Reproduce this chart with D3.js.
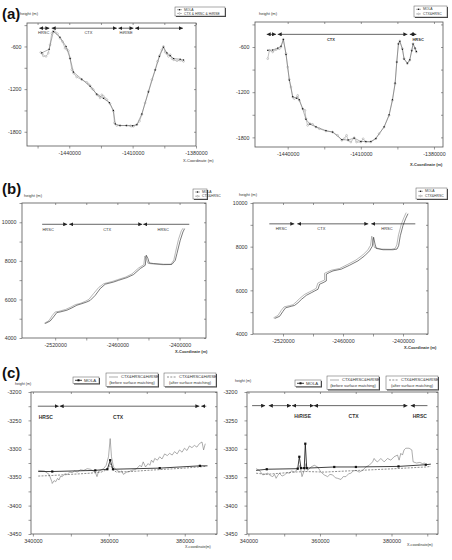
<!DOCTYPE html>
<html>
<head>
<meta charset="utf-8">
<script src="https://cdn.jsdelivr.net/npm/d3@7"></script>
<style>
body { margin: 0; background: #fff; }
text { font-family: "Liberation Sans", Arial, sans-serif; }
</style>
</head>
<body>
<div id="chart"></div>
<script>
// ---- data: elevation profiles [x-coordinate (m), height (m)] ----
var aLeftMola = [[-1453000,-690],[-1449500,-640],[-1447500,-390],[-1444400,-470],[-1441500,-600],[-1439600,-770],[-1438000,-960],[-1434100,-1060],[-1430100,-1160],[-1427000,-1270],[-1423800,-1330],[-1421000,-1390],[-1419100,-1500],[-1418200,-1690],[-1416000,-1712],[-1413000,-1712],[-1410000,-1715],[-1408000,-1700],[-1405650,-1550],[-1402500,-1240],[-1399300,-930],[-1397300,-740],[-1395400,-610],[-1393800,-690],[-1392200,-730],[-1390600,-770],[-1387500,-780],[-1385900,-790]];
var aLeftCtx = [[-1453500,-684],[-1452800,-700],[-1452260,-731],[-1451000,-740],[-1449900,-693],[-1449100,-577],[-1448300,-413],[-1447500,-380],[-1446700,-395],[-1445600,-420],[-1444400,-483],[-1443250,-530],[-1442000,-623],[-1441200,-640],[-1440400,-660],[-1439600,-764],[-1438800,-927],[-1438000,-974],[-1436500,-1030],[-1434100,-1067],[-1431700,-1105],[-1430900,-1130],[-1430100,-1151],[-1429300,-1190],[-1428600,-1207],[-1427000,-1278],[-1426200,-1290],[-1425400,-1324],[-1424600,-1280],[-1423800,-1301],[-1423000,-1330],[-1422200,-1348],[-1420700,-1404],[-1419100,-1511],[-1418600,-1675],[-1417500,-1712],[-1415900,-1712],[-1412800,-1712],[-1411000,-1716],[-1410400,-1722],[-1409600,-1722],[-1408000,-1698],[-1406750,-1651],[-1405650,-1558],[-1404100,-1394],[-1402500,-1231],[-1400900,-1067],[-1399300,-927],[-1398200,-810],[-1397300,-731],[-1396200,-647],[-1395400,-600],[-1394600,-680],[-1393800,-703],[-1393000,-740],[-1392200,-717],[-1391400,-770],[-1390600,-787],[-1389000,-801],[-1387500,-795],[-1385900,-810]];

var aRightMola = [[-1448184,-644],[-1446140,-640],[-1444090,-615],[-1442730,-590],[-1441770,-500],[-1440680,-700],[-1439320,-1040],[-1437950,-1260],[-1436320,-1280],[-1435230,-1300],[-1433860,-1420],[-1432500,-1560],[-1430860,-1625],[-1428410,-1660],[-1424310,-1710],[-1421590,-1730],[-1417770,-1830],[-1415180,-1835],[-1412720,-1810],[-1410000,-1855],[-1407950,-1855],[-1405900,-1855],[-1403850,-1815],[-1400440,-1660],[-1398400,-1500],[-1397030,-1300],[-1395940,-1080],[-1395260,-800],[-1394580,-560],[-1394030,-525],[-1392940,-630],[-1392260,-760],[-1390900,-815],[-1389940,-770],[-1389120,-650],[-1388580,-560],[-1387760,-615],[-1387210,-660]];
var aRightCtx = [[-1448184,-755],[-1447500,-644],[-1446140,-666],[-1444770,-635],[-1443410,-622],[-1442730,-600],[-1441770,-498],[-1440680,-689],[-1440000,-866],[-1439320,-1030],[-1438640,-1131],[-1437950,-1264],[-1437270,-1286],[-1436320,-1273],[-1435910,-1242],[-1435230,-1309],[-1433860,-1419],[-1432910,-1441],[-1432500,-1552],[-1431820,-1641],[-1430860,-1618],[-1429770,-1627],[-1428410,-1663],[-1427040,-1685],[-1424310,-1716],[-1421590,-1729],[-1419540,-1773],[-1417770,-1840],[-1416810,-1818],[-1415860,-1773],[-1415180,-1840],[-1414080,-1862],[-1412720,-1804],[-1411770,-1862],[-1410000,-1862],[-1409040,-1818],[-1407950,-1862],[-1405900,-1862],[-1403850,-1818],[-1402490,-1751],[-1400440,-1663],[-1398400,-1508],[-1397030,-1308],[-1395940,-1087],[-1395260,-799],[-1394580,-556],[-1394030,-520],[-1392940,-622],[-1392260,-755],[-1390900,-821],[-1389940,-777],[-1389120,-644],[-1388580,-556],[-1387760,-622],[-1387210,-666]];

var bLeftMola = [[-2529650,4750],[-2524830,4880],[-2521640,5090],[-2518360,5320],[-2515170,5350],[-2508700,5440],[-2503880,5560],[-2499050,5700],[-2494220,5780],[-2489400,5870],[-2486210,5950],[-2481380,6210],[-2476560,6560],[-2471730,6790],[-2463720,6900],[-2458890,6990],[-2450780,7130],[-2444410,7290],[-2437940,7600],[-2433110,7770],[-2432150,8290],[-2430510,8120],[-2429250,7890],[-2425100,7860],[-2415450,7820],[-2407340,7820],[-2404150,8030],[-2402510,8380],[-2400970,8720],[-2399330,9070],[-2396720,9500],[-2395170,9670]];
var bLeftCtx = [[-2530500,4760],[-2526000,4900],[-2523000,5150],[-2520000,5350],[-2516500,5380],[-2510000,5480],[-2505000,5600],[-2500500,5730],[-2495500,5800],[-2491000,5900],[-2487500,6000],[-2483000,6300],[-2478000,6620],[-2473000,6820],[-2465000,6930],[-2460000,7020],[-2452000,7160],[-2446000,7320],[-2439500,7630],[-2434500,7800],[-2433500,8250],[-2431800,8080],[-2430500,7870],[-2426000,7840],[-2416000,7800],[-2408500,7810],[-2405500,8050],[-2404000,8420],[-2402500,8780],[-2401000,9120],[-2398300,9560],[-2396500,9700]];

var bRightMola = [[-2528400,4710],[-2523400,4810],[-2520000,5040],[-2517400,5200],[-2511700,5270],[-2508400,5310],[-2505000,5430],[-2501700,5580],[-2496700,5770],[-2491700,5890],[-2488400,5970],[-2485000,6050],[-2483400,6280],[-2480000,6350],[-2476700,6430],[-2476700,6740],[-2473400,6820],[-2470000,6890],[-2461700,6970],[-2453400,7150],[-2445000,7350],[-2438400,7580],[-2433400,7810],[-2430700,8020],[-2429400,8430],[-2428000,8120],[-2426700,7920],[-2420000,7860],[-2410000,7860],[-2406000,7890],[-2404400,8040],[-2402700,8500],[-2400000,8970],[-2397400,9280],[-2395000,9510]];
var bRightCtx = [[-2529500,4740],[-2525000,4850],[-2521800,5080],[-2519000,5240],[-2513500,5300],[-2510000,5340],[-2506800,5470],[-2503500,5620],[-2498500,5810],[-2493500,5930],[-2490000,6010],[-2486800,6090],[-2485200,6330],[-2482000,6400],[-2478500,6470],[-2478500,6780],[-2475200,6850],[-2471800,6920],[-2463500,7000],[-2455200,7190],[-2447000,7390],[-2440200,7620],[-2435200,7850],[-2432500,8060],[-2431200,8480],[-2429800,8160],[-2428500,7960],[-2421800,7890],[-2411800,7880],[-2407800,7920],[-2406200,8080],[-2404500,8540],[-2401800,9010],[-2399200,9320],[-2396800,9560]];

var cLeftMola = [[341400,-3340],[345100,-3340],[356440,-3338],[359600,-3336],[360360,-3320],[361100,-3336],[373410,-3334],[384000,-3330],[386000,-3330]];
var cLeftBefore = [[341400,-3338],[343000,-3339],[344260,-3345],[345000,-3358],[345100,-3361],[345600,-3356],[346000,-3358],[346500,-3352],[346870,-3355],[347300,-3348],[347740,-3349],[348400,-3344],[349050,-3345],[349700,-3341],[350360,-3342],[351000,-3339],[351670,-3341],[352500,-3337],[353400,-3338],[354300,-3335],[355140,-3336],[355800,-3339],[356440,-3341],[356880,-3349],[357300,-3340],[357750,-3338],[358610,-3335],[359310,-3329],[359920,-3314],[360360,-3282],[360700,-3314],[361220,-3332],[362100,-3338],[362970,-3341],[363400,-3339],[363840,-3345],[364710,-3341],[365400,-3340],[366020,-3338],[366700,-3337],[367330,-3335],[368190,-3329],[368600,-3332],[369060,-3323],[369670,-3332],[370360,-3326],[370800,-3329],[371240,-3320],[371700,-3324],[372100,-3317],[372800,-3320],[373410,-3314],[374000,-3318],[374710,-3309],[375400,-3312],[376020,-3308],[376700,-3311],[377320,-3305],[378000,-3309],[378630,-3302],[379300,-3306],[379930,-3299],[380600,-3303],[381240,-3295],[381900,-3298],[382540,-3294],[383200,-3297],[383850,-3291],[384550,-3288],[384970,-3302],[385410,-3291]];
var cLeftAfter = [[341400,-3348],[345000,-3347],[350000,-3345],[355000,-3343],[358000,-3341],[359800,-3336],[360360,-3326],[360900,-3336],[362000,-3341],[366000,-3340],[370000,-3338],[375000,-3336],[380000,-3334],[385400,-3331]];

var cRightMola = [[342150,-3338],[345130,-3336],[353780,-3335],[354230,-3314],[354700,-3334],[355600,-3334],[355900,-3291],[356300,-3334],[363990,-3332],[370050,-3332],[381960,-3331],[389580,-3328],[391000,-3327]];
var cRightBefore = [[342150,-3335],[343070,-3338],[344010,-3346],[345410,-3343],[346100,-3347],[346800,-3349],[347300,-3345],[347730,-3352],[348200,-3347],[348660,-3343],[349400,-3348],[350060,-3346],[350800,-3342],[351440,-3343],[352100,-3339],[352830,-3341],[353780,-3336],[354420,-3329],[354980,-3349],[355620,-3338],[356100,-3326],[356570,-3338],[357490,-3332],[358410,-3329],[359360,-3332],[360280,-3341],[361200,-3346],[362150,-3349],[362800,-3345],[363550,-3346],[364300,-3351],[364930,-3352],[365860,-3354],[366500,-3349],[367260,-3349],[368000,-3344],[368650,-3343],[369300,-3339],[370050,-3338],[370970,-3341],[371920,-3338],[372840,-3332],[373770,-3329],[374710,-3323],[375150,-3317],[375600,-3321],[376100,-3323],[377020,-3317],[377940,-3323],[378890,-3317],[379810,-3320],[380730,-3314],[381680,-3311],[382130,-3320],[382600,-3308],[383070,-3311],[383510,-3302],[384000,-3299],[384920,-3299],[385680,-3302],[386050,-3323],[387000,-3325],[387920,-3324],[388660,-3326],[389300,-3325]];
var cRightAfter = [[342150,-3343],[345000,-3345],[352830,-3341],[356100,-3340],[361200,-3341],[370970,-3338],[381000,-3335],[389580,-3332],[391000,-3331]];

// ---- tick values and labels ----
var aLeftXTicks = [-1455000,-1440000,-1425000,-1410000,-1395000,-1380000];
var aRightXTicks = [-1440000,-1425000,-1410000,-1395000,-1380000];
var aXLabels = [-1440000,-1410000,-1380000];
var aYTicks = [-1800,-1500,-1200,-900,-600,-300];
var aYLabels = [-1800,-1200,-600];
var bXTicks = [-2520000,-2490000,-2460000,-2430000,-2400000];
var bXLabels = [-2520000,-2460000,-2400000];
var bLeftYTicks = [4000,5000,6000,7000,8000,9000,10000,11000];
var bRightYTicks = [4000,5000,6000,7000,8000,9000,10000];
var bYLabels = [4000,6000,8000,10000];
var cLeftXTicks = [340000,350000,360000,370000,380000];
var cRightXTicks = [340000,350000,360000,370000,380000,390000];
var cXLabels = [340000,360000,380000];
var cYTicks = [-3450,-3425,-3400,-3375,-3350,-3325,-3300,-3275,-3250,-3225,-3200];
var cYLabels = [-3450,-3400,-3350,-3300,-3250,-3200];

// ---- image-strip annotations: spans [from, to] and names [label, x] ----
var aLeftSpans = [[-1454150,-1449410],[-1448300,-1417500],[-1416700,-1409600],[-1408800,-1386200]];
var aLeftNames = [["HRSC",-1452100],["CTX",-1430900],["HiRISE",-1413100]];
var aRightSpans = [[-1448600,-1444770],[-1444090,-1390900],[-1389940,-1387210]];
var aRightNames = [["CTX",-1422270],["HRSC",-1386500]];
var bLeftSpans = [[-2532550,-2508420],[-2506480,-2436010],[-2435040,-2390640]];
var bLeftNames = [["HRSC",-2526760],["CTX",-2469800],["HRSC",-2415740]];
var bRightSpans = [[-2533700,-2508700],[-2505700,-2434700],[-2431700,-2387700]];
var bRightNames = [["HRSC",-2521700],["CTX",-2481700],["HRSC",-2416000]];
var cLeftSpans = [[341300,346790],[347050,383850],[384370,385680]];
var cLeftNames = [["HRSC",343400],["CTX",362450]];
var cRightSpans = [[341030,344660],[345690,351910],[352190,358250],[358330,384470],[385390,390050]];
var cRightNames = [["HiRISE",355170],["CTX",369400],["HRSC",387900]];

var W = 452, H = 560;
var svg = d3.select("#chart").append("svg")
    .attr("width", W)
    .attr("height", H);

var defs = svg.append("defs");
defs.append("marker")
    .attr("id", "head")
    .attr("viewBox", "0 0 6 6")
    .attr("refX", 6).attr("refY", 3)
    .attr("markerWidth", 4).attr("markerHeight", 4)
    .attr("markerUnits", "userSpaceOnUse")
    .attr("orient", "auto-start-reverse")
    .append("path")
    .attr("d", "M0,0 L6,3 L0,6 z")
    .attr("fill", "#222");

var STYLES = {
    mola: {stroke: "#555", width: 0.45, dash: null, mark: "square"},
    ctx: {stroke: "#999", width: 0.6, dash: null, mark: "circle"},
    molaB: {stroke: "#222", width: 0.6, dash: null, mark: null},
    ctxB: {stroke: "#888", width: 0.6, dash: null, mark: null},
    molaC: {stroke: "#111", width: 0.8, dash: null, mark: "squareBig"},
    before: {stroke: "#777", width: 0.6, dash: null, mark: null},
    after: {stroke: "#444", width: 0.6, dash: "2,1.3", mark: null}
};

ProfilePanel = function(cfg) {
    var vis = this;
    vis.cfg = cfg;
    vis.initVis();
}

ProfilePanel.prototype.initVis = function() {
    var vis = this;
    var c = vis.cfg, f = c.frame;

    vis.x = d3.scaleLinear().domain(c.xDomain).range([f.x, f.x + f.w]);
    vis.y = d3.scaleLinear().domain(c.yDomain).range([f.y + f.h, f.y]);
    vis.g = svg.append("g");

    var fmt = function(labels) {
        return function(d) { return labels.indexOf(d) >= 0 ? String(d) : ""; };
    };

    vis.g.append("g")
        .attr("class", "x-axis")
        .attr("transform", "translate(0," + (f.y + f.h) + ")")
        .call(d3.axisBottom(vis.x).tickValues(c.xTicks).tickSize(2.5).tickPadding(2.5).tickFormat(fmt(c.xLabels)));
    vis.g.append("g")
        .attr("class", "y-axis")
        .attr("transform", "translate(" + f.x + ",0)")
        .call(d3.axisLeft(vis.y).tickValues(c.yTicks).tickSize(2.5).tickPadding(c.yPad).tickFormat(fmt(c.yLabels)));
    vis.g.append("g")
        .attr("transform", "translate(0," + f.y + ")")
        .call(d3.axisTop(vis.x).tickValues(c.xTicks).tickSize(-2).tickFormat(""));
    vis.g.append("g")
        .attr("transform", "translate(" + (f.x + f.w) + ",0)")
        .call(d3.axisRight(vis.y).tickValues(c.yTicks).tickSize(-2).tickFormat(""));

    vis.g.selectAll(".domain").remove();
    vis.g.selectAll(".tick line").attr("stroke", "#555").attr("stroke-width", 0.6);
    vis.g.selectAll(".tick text")
        .attr("font-size", c.tickFont)
        .attr("fill", "#333")
        .attr("font-family", "Liberation Sans, Arial, sans-serif");

    vis.g.append("rect")
        .attr("x", f.x).attr("y", f.y)
        .attr("width", f.w).attr("height", f.h)
        .attr("fill", "none")
        .attr("stroke", "#555")
        .attr("stroke-width", 0.8);

    vis.updateVis();
}

ProfilePanel.prototype.updateVis = function() {
    var vis = this;
    var c = vis.cfg;

    var line = d3.line()
        .x(function(d) { return vis.x(d[0]); })
        .y(function(d) { return vis.y(d[1]); });

    c.series.forEach(function(s) {
        var st = STYLES[s.style];
        vis.g.append("path")
            .attr("d", line(s.data))
            .attr("fill", "none")
            .attr("stroke", st.stroke)
            .attr("stroke-width", st.width)
            .attr("stroke-dasharray", st.dash)
            .attr("stroke-linejoin", "round");

        if (st.mark == "circle") {
            vis.g.selectAll(null).data(s.data).enter().append("circle")
                .attr("cx", function(d) { return vis.x(d[0]); })
                .attr("cy", function(d) { return vis.y(d[1]); })
                .attr("r", 0.9)
                .attr("fill", "#fff")
                .attr("stroke", "#888")
                .attr("stroke-width", 0.4);
        } else if (st.mark == "square" || st.mark == "squareBig") {
            var sz = st.mark == "square" ? 1.2 : 2.2;
            var pts = st.mark == "square" ? s.data : s.data.slice(1, -1);
            vis.g.selectAll(null).data(pts).enter().append("rect")
                .attr("x", function(d) { return vis.x(d[0]) - sz / 2; })
                .attr("y", function(d) { return vis.y(d[1]) - sz / 2; })
                .attr("width", sz).attr("height", sz)
                .attr("fill", "#111");
        }
    });

    // sensor coverage arrows
    c.spans.forEach(function(sp, i) {
        var inner = c.heads == "inner";
        vis.g.append("line")
            .attr("x1", vis.x(sp[0])).attr("x2", vis.x(sp[1]))
            .attr("y1", vis.y(c.spanY)).attr("y2", vis.y(c.spanY))
            .attr("stroke", "#222")
            .attr("stroke-width", 0.7)
            .attr("marker-start", (!inner || i > 0) ? "url(#head)" : null)
            .attr("marker-end", (!inner || i < c.spans.length - 1) ? "url(#head)" : null);
    });
    vis.g.selectAll(null).data(c.names).enter().append("text")
        .attr("x", function(d) { return vis.x(d[1]); })
        .attr("y", vis.y(c.nameY))
        .attr("text-anchor", "middle")
        .attr("font-size", c.nameFont)
        .attr("font-weight", c.nameBold ? "bold" : "normal")
        .attr("fill", "#333")
        .text(function(d) { return d[0]; });

    // axis titles
    vis.g.append("text")
        .attr("x", c.yTitle[0]).attr("y", c.yTitle[1])
        .attr("font-size", c.titleFont)
        .attr("fill", "#333")
        .text("height (m)");
    vis.g.append("text")
        .attr("x", c.xTitle[0]).attr("y", c.xTitle[1])
        .attr("font-size", c.titleFont)
        .attr("font-weight", c.xTitleBold ? "bold" : "normal")
        .attr("fill", "#333")
        .text(c.xTitleText);

    if (c.letter) {
        svg.append("text")
            .attr("x", 2).attr("y", c.letter[1])
            .attr("font-size", 15)
            .attr("font-weight", "bold")
            .attr("fill", "#111")
            .text(c.letter[0]);
    }

    vis.drawLegend();
}

ProfilePanel.prototype.drawLegend = function() {
    var vis = this;
    var c = vis.cfg;

    c.legend.forEach(function(box) {
        vis.g.append("rect")
            .attr("x", box.x + 1).attr("y", box.y + 1)
            .attr("width", box.w).attr("height", box.h)
            .attr("fill", "#444");
        vis.g.append("rect")
            .attr("x", box.x).attr("y", box.y)
            .attr("width", box.w).attr("height", box.h)
            .attr("fill", "#fff")
            .attr("stroke", "#555")
            .attr("stroke-width", 0.5);

        box.rows.forEach(function(r, i) {
            var st = STYLES[r.style];
            var ry = box.y + box.rowY[i];
            if (r.style) {
                var lx0 = box.x + box.sample[0], lx1 = box.x + box.sample[1];
                vis.g.append("line")
                    .attr("x1", lx0).attr("x2", lx1)
                    .attr("y1", ry).attr("y2", ry)
                    .attr("stroke", st.stroke)
                    .attr("stroke-width", st.width)
                    .attr("stroke-dasharray", st.dash);
                if (st.mark == "square" || st.mark == "squareBig") {
                    var s = st.mark == "square" ? 1.3 : 2;
                    vis.g.append("rect")
                        .attr("x", (lx0 + lx1) / 2 - s / 2).attr("y", ry - s / 2)
                        .attr("width", s).attr("height", s)
                        .attr("fill", "#111");
                } else if (st.mark == "circle") {
                    vis.g.append("circle")
                        .attr("cx", (lx0 + lx1) / 2).attr("cy", ry)
                        .attr("r", 0.8)
                        .attr("fill", "#fff").attr("stroke", "#777").attr("stroke-width", 0.4);
                }
            }
            vis.g.append("text")
                .attr("x", r.center ? box.x + box.w / 2 : box.x + box.textX)
                .attr("y", ry + box.font * 0.35)
                .attr("text-anchor", r.center ? "middle" : "start")
                .attr("font-size", box.font)
                .attr("fill", "#333")
                .text(r.text);
        });
    });
}

function smallLegend(x, y, w, h, second) {
    return {x: x, y: y, w: w, h: h, font: 3.4, textX: 9, sample: [2, 7], rowY: [h * 0.3, h * 0.72],
        rows: [{style: "mola", text: "MOLA"}, {style: "ctx", text: second}]};
}

function cLegend(x0, x1, x2, y) {
    return [
        {x: x0, y: y + 4, w: 26, h: 6.5, font: 4.3, textX: 11, sample: [2, 9], rowY: [3.3],
            rows: [{style: "molaC", text: "MOLA"}]},
        {x: x1, y: y, w: 52, h: 13.5, font: 4, textX: 15, sample: [3, 12], rowY: [4, 10],
            rows: [{style: "before", text: "CTX&HRSC&HiRISE"}, {style: null, center: true, text: "(before surface matching)"}]},
        {x: x2, y: y, w: 52, h: 13.5, font: 4, textX: 15, sample: [3, 12], rowY: [4, 10],
            rows: [{style: "after", text: "CTX&HRSC&HiRISE"}, {style: null, center: true, text: "(after surface matching)"}]}
    ];
}

var panels = [
    {frame: {x: 27, y: 23, w: 169, h: 123}, xDomain: [-1460000, -1380000], yDomain: [-2000, -270],
     xTicks: aLeftXTicks, xLabels: aXLabels, yTicks: aYTicks, yLabels: aYLabels, yPad: 3, tickFont: 5.3,
     series: [{data: aLeftCtx, style: "ctx"}, {data: aLeftMola, style: "mola"}],
     spans: aLeftSpans, spanY: -343, heads: "both", names: aLeftNames, nameY: -425, nameFont: 4, nameBold: false,
     yTitle: [20, 15], xTitle: [183, 162], xTitleText: "X-Coordinate (m)", titleFont: 4, letter: ["(a)", 19],
     legend: [smallLegend(175, 7, 50, 9, "CTX & HRSC & HiRISE")]},
    {frame: {x: 255, y: 22, w: 188, h: 125}, xDomain: [-1453400, -1376300], yDomain: [-1928, -268],
     xTicks: aRightXTicks, xLabels: aXLabels, yTicks: aYTicks, yLabels: aYLabels, yPad: 3, tickFont: 5.3,
     series: [{data: aRightCtx, style: "ctx"}, {data: aRightMola, style: "mola"}],
     spans: aRightSpans, spanY: -432, heads: "both", names: aRightNames, nameY: -520, nameFont: 4, nameBold: true,
     yTitle: [259, 15], xTitle: [410, 166], xTitleText: "X-Coordinate (m)", titleFont: 4, xTitleBold: true,
     legend: [smallLegend(414, 6, 33, 11, "CTX&HRSC")]},
    {frame: {x: 22, y: 203, w: 184, h: 135}, xDomain: [-2552000, -2374500], yDomain: [4000, 11000],
     xTicks: bXTicks, xLabels: bXLabels, yTicks: bLeftYTicks, yLabels: bYLabels, yPad: 3, tickFont: 5.3,
     series: [{data: bLeftCtx, style: "ctxB"}, {data: bLeftMola, style: "molaB"}],
     spans: bLeftSpans, spanY: 9896, heads: "inner", names: bLeftNames, nameY: 9533, nameFont: 4, nameBold: false,
     yTitle: [24, 197], xTitle: [175, 353], xTitleText: "X-Coordinate (m)", titleFont: 4, xTitleBold: true, letter: ["(b)", 194],
     legend: [smallLegend(193, 189, 14, 10, "CTX&HRSC")]},
    {frame: {x: 253, y: 203, w: 175, h: 131}, xDomain: [-2550000, -2375000], yDomain: [4000, 10000],
     xTicks: bXTicks, xLabels: bXLabels, yTicks: bRightYTicks, yLabels: bYLabels, yPad: 3, tickFont: 5.3,
     series: [{data: bRightCtx, style: "ctxB"}, {data: bRightMola, style: "molaB"}],
     spans: bRightSpans, spanY: 9045, heads: "inner", names: bRightNames, nameY: 8768, nameFont: 4, nameBold: false,
     yTitle: [239, 196], xTitle: [404, 349], xTitleText: "X-Coordinate (m)", titleFont: 4, xTitleBold: true,
     legend: [smallLegend(416, 188, 31, 11, "CTX&HRSC")]},
    {frame: {x: 31, y: 392, w: 186, h: 142}, xDomain: [339500, 388500], yDomain: [-3450, -3200],
     xTicks: cLeftXTicks, xLabels: cXLabels, yTicks: cYTicks, yLabels: cYLabels, yPad: 7, tickFont: 5.5,
     series: [{data: cLeftBefore, style: "before"}, {data: cLeftAfter, style: "after"}, {data: cLeftMola, style: "molaC"}],
     spans: cLeftSpans, spanY: -3225, heads: "inner", names: cLeftNames, nameY: -3248, nameFont: 5, nameBold: true,
     yTitle: [15, 385], xTitle: [185, 548], xTitleText: "X-coordinate(m)", titleFont: 3.6, letter: ["(c)", 378],
     legend: cLegend(73, 106, 164, 373)},
    {frame: {x: 247, y: 392, w: 191, h: 142}, xDomain: [339600, 393000], yDomain: [-3450, -3200],
     xTicks: cRightXTicks, xLabels: cXLabels, yTicks: cYTicks, yLabels: cYLabels, yPad: 7, tickFont: 5.5,
     series: [{data: cRightBefore, style: "before"}, {data: cRightAfter, style: "after"}, {data: cRightMola, style: "molaC"}],
     spans: cRightSpans, spanY: -3224, heads: "inner", names: cRightNames, nameY: -3246, nameFont: 5, nameBold: true,
     yTitle: [235, 382], xTitle: [407, 546], xTitleText: "X-coordinate(m)", titleFont: 3.6,
     legend: cLegend(295, 327, 386, 376)}
];

panels.forEach(function(p) { new ProfilePanel(p); });
</script>
</body>
</html>
